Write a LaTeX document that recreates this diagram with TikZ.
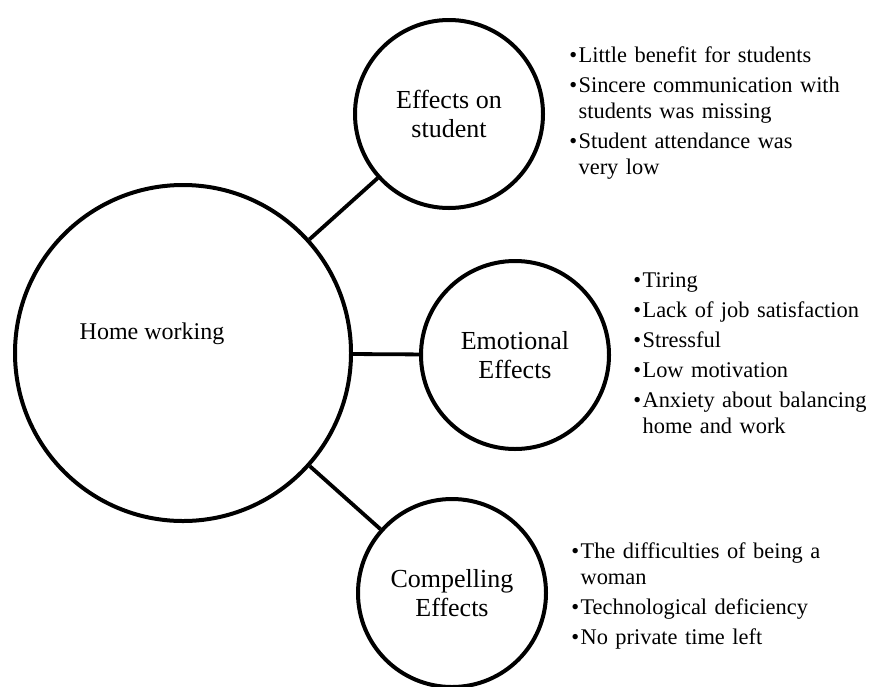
\documentclass[tikz,border=0pt]{standalone}
\usepackage{fontspec}
\setmainfont{Liberation Serif}
\usepackage{tikz}
\usetikzlibrary{positioning}

\newlength{\bulw}
\setlength{\bulw}{4.6pt}
\newcommand{\bitem}[1]{\noindent\hangindent=\bulw\hangafter=1\makebox[\bulw][l]{\textbullet}#1\par\vspace{2pt}}

\begin{document}
\begin{tikzpicture}[x=0.5pt,y=-0.5pt,
  hub/.style={draw,circle,line width=2pt,minimum size=168pt,inner sep=0pt},
  bubble/.style={draw,circle,line width=2pt,minimum size=94pt,inner sep=0pt,align=center,
    font=\fontsize{13}{14.5}\selectfont},
  link/.style={line width=1.9pt},
  notes/.style={anchor=base west,inner sep=0pt,text width=160pt,
    font=\fontsize{11.2}{13}\selectfont}]
\useasboundingbox (0,0) rectangle (876,686);
%
% circles
\node[hub] (home) at (183,353) {};
\node[font=\fontsize{12}{13}\selectfont] (homelbl) at (152,334) {Home working};
\node[bubble] (student) at (449,114) {Effects on\\student};
\node[bubble] (emotion) at (515,355) {Emotional\\Effects};
\node[bubble] (compel) at (452,593) {Compelling\\Effects};
%
% links
\draw[link] (home) -- (student);
\draw[link] (home) -- (emotion);
\draw[link] (home) -- (compel);
%
% lists
\node[notes] (studlist) at (569,62) {%
\bitem{Little benefit for students}
\bitem{Sincere communication with\newline students was missing}
\bitem{Student attendance was\newline very low}};
\node[notes] (emolist) at (633,287) {%
\bitem{Tiring}
\bitem{Lack of job satisfaction}
\bitem{Stressful}
\bitem{Low motivation}
\bitem{Anxiety about balancing\newline home and work}};
\node[notes] (complist) at (571,558) {%
\bitem{The difficulties of being a\newline woman}
\bitem{Technological deficiency}
\bitem{No private time left}};
%
\end{tikzpicture}
\end{document}
